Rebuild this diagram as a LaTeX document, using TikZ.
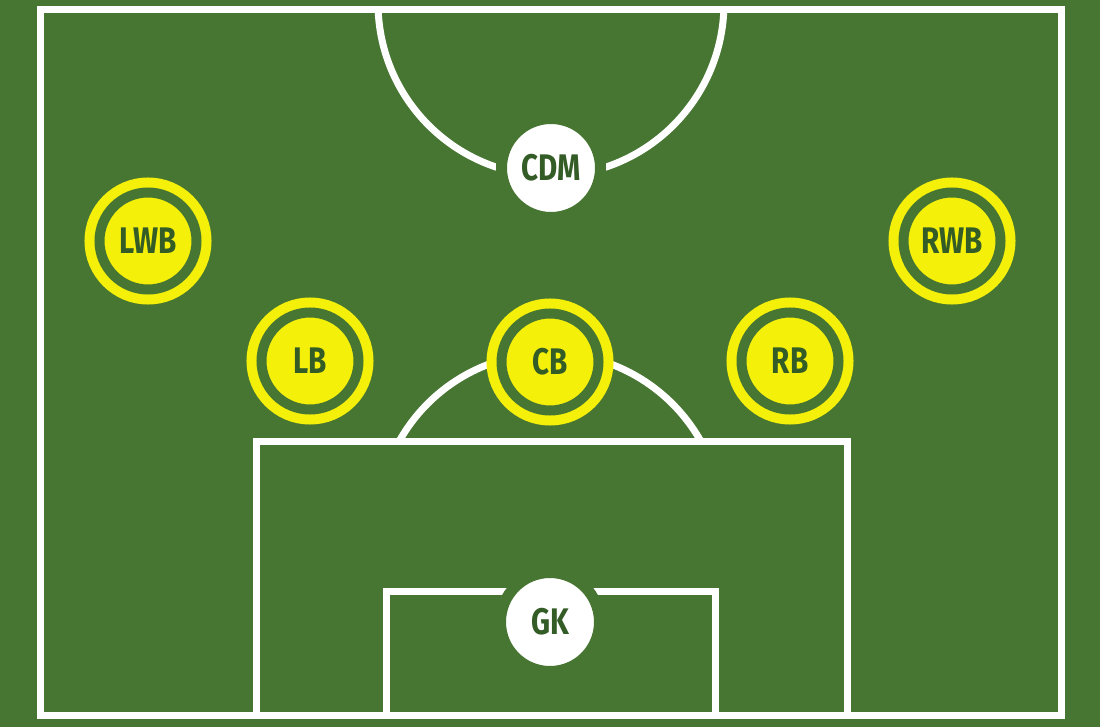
\documentclass[tikz,border=0pt]{standalone}
\usepackage{fontspec}
\setmainfont{Fira Sans}[FakeStretch=0.8]
\definecolor{pitch}{RGB}{71,118,50}
\definecolor{ink}{RGB}{52,92,38}
\definecolor{shirt}{RGB}{244,240,10}
\tikzset{
  markline/.style={draw=white, line width=7pt},
  whitedisc/.style={circle, inner sep=0pt, minimum size=99pt, fill=white, draw=pitch, line width=11pt,
    text=ink, font=\fontsize{37}{37}\selectfont\bfseries},
  player/.style={circle, inner sep=0pt, minimum size=97pt, fill=shirt, draw=shirt, line width=10pt,
    double=pitch, double distance=10pt, text=ink, font=\fontsize{37}{37}\selectfont\bfseries},
}
\begin{document}
\begin{tikzpicture}[x=1pt, y=-1pt]
\fill[pitch] (0,0) rectangle (1100,727);
\useasboundingbox (0,0) rectangle (1100,727);
% outer boundary
\draw[markline] (40,10) rectangle (1061,715);
% top centre arc
\draw[markline] ([shift={(177.7:173)}]551,3) arc (177.7:2.3:173);
% penalty arc
\draw[markline] ([shift={(209.4:173)}]550,526) arc (209.4:330.6:173);
% penalty box
\draw[markline] (256,715) -- (256,441) -- (847,441) -- (847,715);
% goal box
\draw[markline] (386,715) -- (386,591) -- (715,591) -- (715,715);
% players
\node[whitedisc] (cdm) at (551,168) {CDM};
\node[whitedisc] (gk) at (550,622) {GK};
\node[player] (lwb) at (148,241) {LWB};
\node[player] (rwb) at (952,241) {RWB};
\node[player] (lb) at (310,361) {LB};
\node[player] (cb) at (550,362) {CB};
\node[player] (rb) at (790,361) {RB};
\end{tikzpicture}
\end{document}
